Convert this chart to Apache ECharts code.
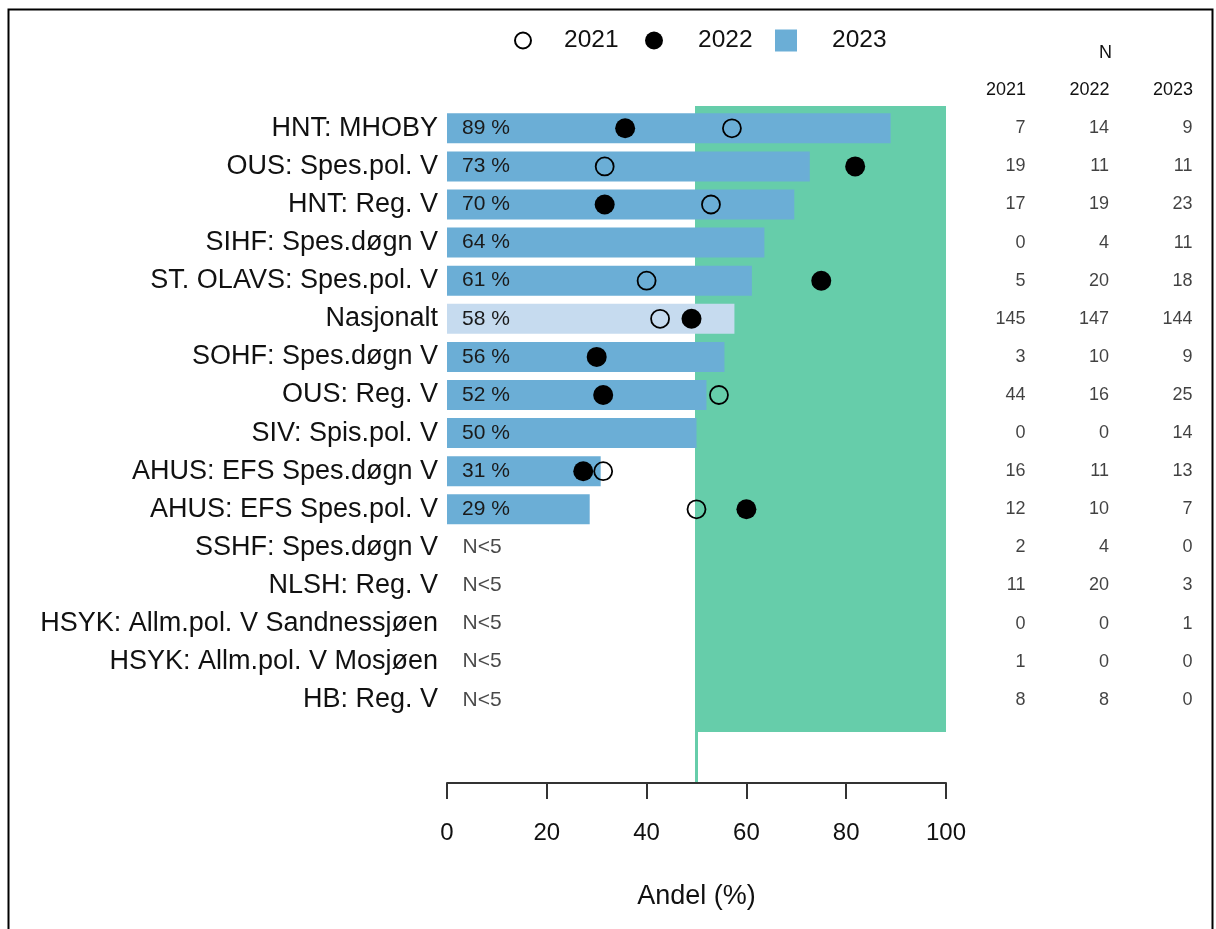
<!DOCTYPE html>
<html>
<head>
<meta charset="utf-8">
<script src="https://cdn.jsdelivr.net/npm/echarts@6/dist/echarts.min.js"></script>
<style>
html,body{margin:0;padding:0;background:#fff;}
#chart{width:1216px;height:929px;}
</style>
</head>
<body>
<div id="chart"></div>
<script>
// ---- data ----
const categories = ['HNT: MHOBY','OUS: Spes.pol. V','HNT: Reg. V','SIHF: Spes.døgn V','ST. OLAVS: Spes.pol. V','Nasjonalt','SOHF: Spes.døgn V','OUS: Reg. V','SIV: Spis.pol. V','AHUS: EFS Spes.døgn V','AHUS: EFS Spes.pol. V','SSHF: Spes.døgn V','NLSH: Reg. V','HSYK: Allm.pol. V Sandnessjøen','HSYK: Allm.pol. V Mosjøen','HB: Reg. V'];
const share2023 = [88.9, 72.7, 69.6, 63.6, 61.1, 57.6, 55.6, 52.0, 50.0, 30.8, 28.6, null, null, null, null, null];
const share2022 = [35.7, 81.8, 31.6, null, 75.0, 49.0, 30.0, 31.3, null, 27.3, 60.0, null, null, null, null, null];
const share2021 = [57.1, 31.6, 52.9, null, 40.0, 42.7, null, 54.5, null, 31.3, 50.0, null, null, null, null, null];
const n2021 = [7, 19, 17, 0, 5, 145, 3, 44, 0, 16, 12, 2, 11, 0, 1, 8];
const n2022 = [14, 11, 19, 4, 20, 147, 10, 16, 0, 11, 10, 4, 20, 0, 0, 8];
const n2023 = [9, 11, 23, 11, 18, 144, 9, 25, 14, 13, 7, 0, 3, 1, 0, 0];
const years = ['2021', '2022', '2023'];
const xTicks = [0, 20, 40, 60, 80, 100];
const targetLevel = 50;
const lowNLabel = 'N<5';

// ---- layout / style ----
const FONT = 'Liberation Sans, Arial, Helvetica, sans-serif';
const BLUE = '#6BAED6', LIGHT = '#C6DBEF', GREEN = '#66CDAA';
const rowTop = 109.25, rowBand = 38.1;
const gridH = rowBand * categories.length;
const bgTop = 106, axisY = 783, greenBottom = 732;
const rowAt = px => (px - (rowTop + rowBand / 2)) / rowBand;

const pts = arr => arr.map((v, i) => v == null ? null : [v, i]).filter(d => d);
const nasjIdx = categories.indexOf('Nasjonalt');

const chart = echarts.init(document.getElementById('chart'), null, {renderer: 'canvas'});
const option = {
  animation: false,
  backgroundColor: '#fff',
  textStyle: {fontFamily: FONT},
  graphic: [{
    type: 'rect', silent: true, z: -10,
    shape: {x: 8.5, y: 9.5, width: 1204, height: 940},
    style: {fill: 'none', stroke: '#000', lineWidth: 2}
  }],
  legend: [
    {data: [{name: '2021', icon: 'circle', itemStyle: {color: 'rgba(0,0,0,0)', borderColor: '#000', borderWidth: 2, opacity: 1}}],
     left: 514, top: 28, padding: 0, itemWidth: 72, itemHeight: 16, selectedMode: false,
     textStyle: {fontSize: 24.5, color: '#111', fontFamily: FONT}},
    {data: [{name: '2022', icon: 'circle', itemStyle: {color: '#000', borderWidth: 0, opacity: 1}}],
     left: 645, top: 28, padding: 0, itemWidth: 78, itemHeight: 18, selectedMode: false,
     textStyle: {fontSize: 24.5, color: '#111', fontFamily: FONT}},
    {data: [{name: '2023', icon: 'path://M0,0H10V10H0Z', itemStyle: {color: BLUE, borderWidth: 0, opacity: 1}}],
     left: 775, top: 28, padding: 0, itemWidth: 82, itemHeight: 22, selectedMode: false,
     textStyle: {fontSize: 24.5, color: '#111', fontFamily: FONT}}
  ],
  grid: [
    {left: 447, right: 270, top: rowTop, height: gridH},
    {left: 447, right: 270, top: bgTop, bottom: 929 - axisY},
    {left: 1026, right: 23, top: rowTop, height: gridH}
  ],
  xAxis: [
    {gridIndex: 0, type: 'value', min: 0, max: 100, show: false},
    {gridIndex: 1, type: 'value', min: xTicks[0], max: xTicks[xTicks.length - 1], interval: 20, position: 'bottom',
     axisLine: {show: true, onZero: false, lineStyle: {color: '#333', width: 2}},
     axisTick: {show: true, length: 16, lineStyle: {color: '#333', width: 2}},
     axisLabel: {fontSize: 24, color: '#111', margin: 38, fontFamily: FONT},
     splitLine: {show: false},
     name: 'Andel (%)', nameLocation: 'middle', nameGap: 100,
     nameTextStyle: {fontSize: 27, color: '#111', fontFamily: FONT}},
    {gridIndex: 2, type: 'value', min: 0, max: 2, interval: 1, position: 'top',
     axisLine: {show: false, onZero: false}, axisTick: {show: false}, splitLine: {show: false},
     axisLabel: {fontSize: 18, color: '#111', margin: 10, align: 'right', fontFamily: FONT,
                 formatter: v => years[v] || ''},
     name: 'N', nameLocation: 'middle', nameGap: 47,
     nameTextStyle: {fontSize: 18, color: '#111', padding: [0, 8, 0, 0], fontFamily: FONT}}
  ],
  yAxis: [
    {gridIndex: 0, type: 'category', data: categories, inverse: true,
     axisLine: {show: false}, axisTick: {show: false}, splitLine: {show: false},
     axisLabel: {fontSize: 27, color: '#111', margin: 9, fontFamily: FONT}},
    {gridIndex: 1, type: 'value', inverse: true, min: rowAt(bgTop), max: rowAt(axisY), show: false},
    {gridIndex: 2, type: 'category', data: categories, inverse: true, show: false}
  ],
  series: [
    {
      name: 'bg', type: 'scatter', xAxisIndex: 1, yAxisIndex: 1, data: [], z: 0, silent: true,
      markArea: {silent: true, z: 0, itemStyle: {color: GREEN, opacity: 1},
        data: [[{xAxis: targetLevel, yAxis: rowAt(bgTop)}, {xAxis: 100, yAxis: rowAt(greenBottom)}]]},
      markLine: {silent: true, z: 0, symbol: 'none', label: {show: false},
        lineStyle: {color: GREEN, width: 3, type: 'solid', opacity: 1},
        emphasis: {disabled: true},
        data: [{xAxis: targetLevel}]}
    },
    {
      name: '2023', type: 'bar', xAxisIndex: 0, yAxisIndex: 0, barWidth: 30, z: 2,
      itemStyle: {color: BLUE},
      data: share2023.map((v, i) => v == null ? null : {value: v, itemStyle: {color: i === nasjIdx ? LIGHT : BLUE}}),
      label: {show: true, position: 'insideLeft', distance: 15, fontSize: 21, color: '#1a1a1a', fontFamily: FONT,
              formatter: p => Math.round(p.value) + ' %'}
    },
    {
      name: 'lowN', type: 'scatter', xAxisIndex: 0, yAxisIndex: 0, symbolSize: 1,
      itemStyle: {color: 'rgba(0,0,0,0)'},
      data: share2023.map((v, i) => v == null ? [0, i] : null).filter(d => d),
      label: {show: true, position: 'right', distance: 15, fontSize: 21, color: '#1a1a1a', fontFamily: FONT,
              formatter: () => lowNLabel}
    },
    {
      name: '2021', type: 'scatter', xAxisIndex: 0, yAxisIndex: 0, symbol: 'circle', symbolSize: 18, z: 4,
      itemStyle: {color: 'rgba(0,0,0,0)', borderColor: '#000', borderWidth: 1.8, opacity: 1},
      data: pts(share2021)
    },
    {
      name: '2022', type: 'scatter', xAxisIndex: 0, yAxisIndex: 0, symbol: 'circle', symbolSize: 20, z: 3,
      itemStyle: {color: '#000', opacity: 1},
      data: pts(share2022)
    }
  ].concat([n2021, n2022, n2023].map((arr, c) => ({
      name: 'N' + years[c], type: 'scatter', xAxisIndex: 2, yAxisIndex: 2, symbolSize: 1,
      itemStyle: {color: 'rgba(0,0,0,0)'},
      data: arr.map((n, i) => [c, i]),
      label: {show: true, position: 'left', distance: 0, fontSize: 18, color: '#111', fontFamily: FONT,
              formatter: p => String(arr[p.dataIndex])}
  })))
};
chart.setOption(option);
</script>
</body>
</html>
